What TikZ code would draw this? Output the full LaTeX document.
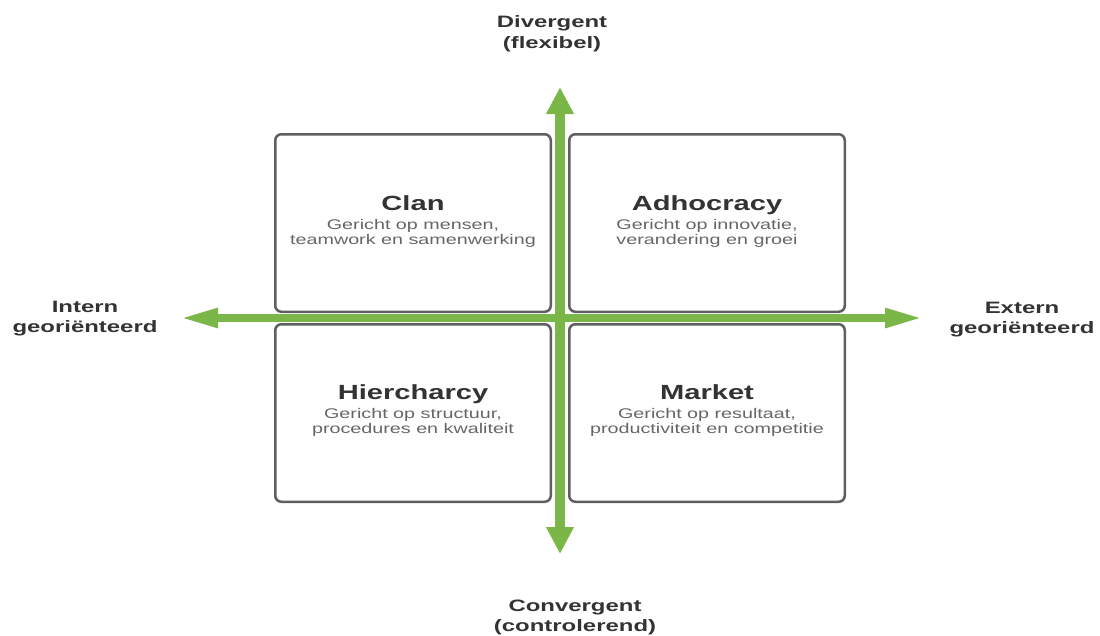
\documentclass[tikz,border=0pt]{standalone}
\usepackage{fontspec}
\setmainfont{Liberation Sans}
\newfontfamily\axisfont[FakeStretch=1.45]{Liberation Sans}
\newfontfamily\ttlfont[FakeStretch=1.42]{Liberation Sans}
\newfontfamily\subfont[FakeStretch=1.41]{Liberation Sans}
\usetikzlibrary{arrows.meta}
\definecolor{grn}{RGB}{122,182,72}
\definecolor{bordergray}{RGB}{95,95,95}
\definecolor{titlegray}{RGB}{51,51,51}
\definecolor{subgray}{RGB}{102,102,102}
\newcommand\mytwolines[2]{\begin{tabular}[t]{@{}c@{}}#1\\#2\end{tabular}}
\begin{document}
\begin{tikzpicture}[x=1pt,y=-1pt,
  quad/.style={draw=bordergray, line width=2.5pt, rounded corners=6pt, fill=white,
    minimum width=275.5pt, minimum height=177.5pt, inner sep=0pt},
  ttl/.style={font=\ttlfont\bfseries\fontsize{20.5}{24}\selectfont, text=titlegray, inner sep=0pt, anchor=base},
  sub/.style={font=\subfont\fontsize{14}{15}\selectfont, text=subgray, inner sep=0pt, anchor=base},
  axislbl/.style={font=\axisfont\bfseries\fontsize{16.5}{20}\selectfont, text=titlegray, inner sep=0pt, anchor=base},
  vaxis/.style={draw=grn, line width=9.5pt, {Triangle[width=26pt,length=27pt]}-{Triangle[width=26pt,length=27pt]}},
  haxis/.style={draw=grn, line width=8pt, {Triangle[width=18pt,length=38pt]}-{Triangle[width=18pt,length=38pt]}}
]
\useasboundingbox (0,0) rectangle (1100,635);

% quadrants
\node[quad] (clan) at (413,223) {};
\node[quad] (adho) at (707,223) {};
\node[quad] (hier) at (413,413) {};
\node[quad] (mark) at (707,413) {};

% titles and descriptions
\node[ttl] (clanT) at (413,210) {Clan};
\node[sub] (clanS) at (413,229) {\mytwolines{Gericht op mensen,}{teamwork en samenwerking}};
\node[ttl] (adhoT) at (707,210) {Adhocracy};
\node[sub] (adhoS) at (707,229) {\mytwolines{Gericht op innovatie,}{verandering en groei}};
\node[ttl] (hierT) at (413,399) {Hiercharcy};
\node[sub] (hierS) at (413,418) {\mytwolines{Gericht op structuur,}{procedures en kwaliteit}};
\node[ttl] (markT) at (707,399) {Market};
\node[sub] (markS) at (707,418) {\mytwolines{Gericht op resultaat,}{productiviteit en competitie}};

% axes
\coordinate (top) at (560,87);
\coordinate (bot) at (560,554);
\coordinate (lft) at (180,318);
\coordinate (rgt) at (923,318);
\draw[vaxis] (bot) -- (top);
\draw[haxis] (lft) -- (rgt);

% axis labels
\node[axislbl, font=\axisfont\bfseries\fontsize{16.5}{21}\selectfont] (div) at (552,27) {\mytwolines{Divergent}{(flexibel)}};
\node[axislbl] (conv) at (575,611) {\mytwolines{Convergent}{(controlerend)}};
\node[axislbl] (intern) at (85,312) {\mytwolines{Intern}{georiënteerd}};
\node[axislbl] (extern) at (1022,313) {\mytwolines{Extern}{georiënteerd}};
\end{tikzpicture}
\end{document}
